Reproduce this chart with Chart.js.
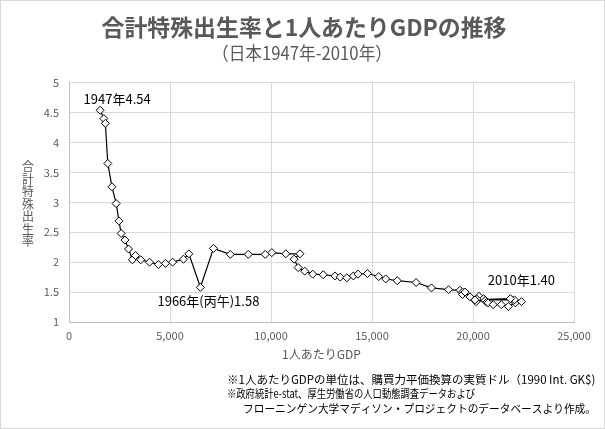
<!DOCTYPE html>
<html lang="ja">
<head>
<meta charset="utf-8">
<title>合計特殊出生率と1人あたりGDPの推移</title>
<script src="https://cdn.jsdelivr.net/npm/chart.js@4.4.1/dist/chart.umd.min.js"></script>
<style>
  html, body { margin: 0; padding: 0; background: #fff; }
  #wrap { width: 605px; height: 429px; box-sizing: border-box; border: 1px solid #d9d9d9; }
  canvas { display: block; }
</style>
</head>
<body>
<div id="wrap"><canvas id="tfrChart" width="603" height="427"></canvas></div>
<script>
// Years 1947-2010
const years = [
  1947, 1948, 1949, 1950, 1951, 1952, 1953, 1954, 1955, 1956,
  1957, 1958, 1959, 1960, 1961, 1962, 1963, 1964, 1965, 1966,
  1967, 1968, 1969, 1970, 1971, 1972, 1973, 1974, 1975, 1976,
  1977, 1978, 1979, 1980, 1981, 1982, 1983, 1984, 1985, 1986,
  1987, 1988, 1989, 1990, 1991, 1992, 1993, 1994, 1995, 1996,
  1997, 1998, 1999, 2000, 2001, 2002, 2003, 2004, 2005, 2006,
  2007, 2008, 2009, 2010
];

// GDP per capita (1990 Int. GK$)
const gdpPerCapita = [
  1541, 1725, 1800, 1921, 2126, 2336, 2474, 2582, 2771, 2948,
  3136, 3289, 3554, 3986, 4426, 4777, 5129, 5668, 5934, 6506,
  7152, 7983, 8874, 9714, 10040, 10734, 11434, 11145, 11344, 11669,
  12064, 12585, 13163, 13428, 13754, 14078, 14307, 14773, 15331, 15679,
  16251, 17185, 17943, 18789, 19355, 19482, 19478, 19608, 19850, 20300,
  20520, 20200, 20150, 20600, 20680, 20750, 21000, 21400, 21750, 22100,
  22400, 22050, 20100, 21850
];

// Total fertility rate
const fertilityRate = [
  4.54, 4.40, 4.32, 3.65, 3.26, 2.98, 2.69, 2.48, 2.37, 2.22,
  2.04, 2.11, 2.04, 2.00, 1.96, 1.98, 2.00, 2.05, 2.14, 1.58,
  2.23, 2.13, 2.13, 2.13, 2.16, 2.14, 2.14, 2.05, 1.91, 1.85,
  1.80, 1.79, 1.77, 1.75, 1.74, 1.77, 1.80, 1.81, 1.76, 1.72,
  1.69, 1.66, 1.57, 1.54, 1.53, 1.50, 1.46, 1.50, 1.42, 1.43,
  1.39, 1.38, 1.34, 1.36, 1.33, 1.32, 1.29, 1.29, 1.26, 1.32,
  1.34, 1.37, 1.37, 1.39
];

const xTicks = [0, 5000, 10000, 15000, 20000, 25000];
const yTicks = [1, 1.5, 2, 2.5, 3, 3.5, 4, 4.5, 5];

const chartTitle = '合計特殊出生率と1人あたりGDPの推移';
const chartSubtitle = '（日本1947年-2010年）';
const xTitle = '1人あたりGDP';
const yTitle = '合計特殊出生率';

// labelled years and their text
const noteYears = [1947, 1966, 2010];
const noteTexts = ['1947年4.54', '1966年(丙午)1.58', '2010年1.40'];

const footnotes = [
  '※1人あたりGDPの単位は、購買力平価換算の実質ドル（1990 Int. GK$)',
  '※政府統計e-stat、厚生労働省の人口動態調査データおよび',
  'フローニンゲン大学マディソン・プロジェクトのデータベースより作成。'
];

const FONT = '"Noto Sans CJK JP", "Noto Sans", sans-serif';
Chart.defaults.font.family = FONT;

/**
 * Extra text: titles, upright y title, point labels and footnotes
 */
const notesPlugin = {
  id: 'notes',
  afterDraw(chart) {
    const ctx = chart.ctx;
    const xs = chart.scales.x;
    const ys = chart.scales.y;
    const area = chart.chartArea;
    ctx.save();
    ctx.textAlign = 'center';
    ctx.textBaseline = 'middle';

    // titles
    ctx.fillStyle = '#595959';
    ctx.font = 'bold 23px ' + FONT;
    ctx.fillText(chartTitle, 303, 26.5, 405);
    ctx.font = '18px ' + FONT;
    ctx.fillText(chartSubtitle, 301, 52.5, 180);

    // y axis title, one character per row
    ctx.font = '12px ' + FONT;
    const chars = Array.from(yTitle);
    const step = 12.5;
    const startY = (area.top + area.bottom) / 2 + 2 - step * (chars.length - 1) / 2;
    chars.forEach((c, i) => ctx.fillText(c, 27, startY + i * step));

    // point labels
    const offsets = [[17, -11], [8, 14], [11, -19]];
    ctx.fillStyle = '#000';
    ctx.font = '13px ' + FONT;
    noteYears.forEach((yr, i) => {
      const k = years.indexOf(yr);
      const px = xs.getPixelForValue(gdpPerCapita[k]);
      const py = ys.getPixelForValue(fertilityRate[k]);
      ctx.fillText(noteTexts[i], px + offsets[i][0], py + offsets[i][1]);
    });

    // footnotes
    ctx.textAlign = 'left';
    ctx.font = '11.5px ' + FONT;
    const lineX = [226, 226, 242];
    const lineY = [379, 393, 407.5];
    const lineW = [372, 248, 353];
    footnotes.forEach((line, i) => {
      ctx.fillText(line, lineX[i], lineY[i], lineW[i]);
    });
    ctx.restore();
  }
};

const points = gdpPerCapita.map((g, i) => ({ x: g, y: fertilityRate[i] }));

new Chart(document.getElementById('tfrChart'), {
  type: 'scatter',
  data: {
    datasets: [{
      label: yTitle,
      data: points,
      showLine: true,
      borderColor: '#000',
      borderWidth: 1.2,
      tension: 0,
      pointStyle: 'rectRot',
      pointRadius: 4,
      pointBackgroundColor: '#fff',
      pointBorderColor: '#000',
      pointBorderWidth: 1
    }]
  },
  options: {
    responsive: false,
    animation: false,
    events: [],
    layout: { padding: { left: 0, right: 30, top: 81.7, bottom: 56 } },
    plugins: {
      legend: { display: false },
      tooltip: { enabled: false },
      title: { display: false },
      subtitle: { display: false }
    },
    scales: {
      x: {
        type: 'linear',
        min: xTicks[0],
        max: xTicks[xTicks.length - 1],
        afterBuildTicks: s => { s.ticks = xTicks.map(v => ({ value: v })); },
        afterFit: s => { s.height = 50; },
        ticks: {
          color: '#595959',
          font: { size: 11 },
          padding: 7,
          maxRotation: 0,
          callback: v => v.toLocaleString('en-US')
        },
        grid: { color: '#d9d9d9', drawTicks: false },
        border: { color: '#bfbfbf' },
        title: {
          display: true,
          text: xTitle,
          color: '#595959',
          font: { size: 12 },
          padding: { top: 4, bottom: 10 }
        }
      },
      y: {
        min: yTicks[0],
        max: yTicks[yTicks.length - 1],
        afterBuildTicks: s => { s.ticks = yTicks.map(v => ({ value: v })); },
        afterFit: s => { s.width = 68; },
        ticks: {
          color: '#595959',
          font: { size: 11 },
          padding: 10,
          callback: v => String(v)
        },
        grid: { color: '#d9d9d9', drawTicks: false },
        border: { color: '#bfbfbf' }
      }
    }
  },
  plugins: [notesPlugin]
});
</script>
</body>
</html>
